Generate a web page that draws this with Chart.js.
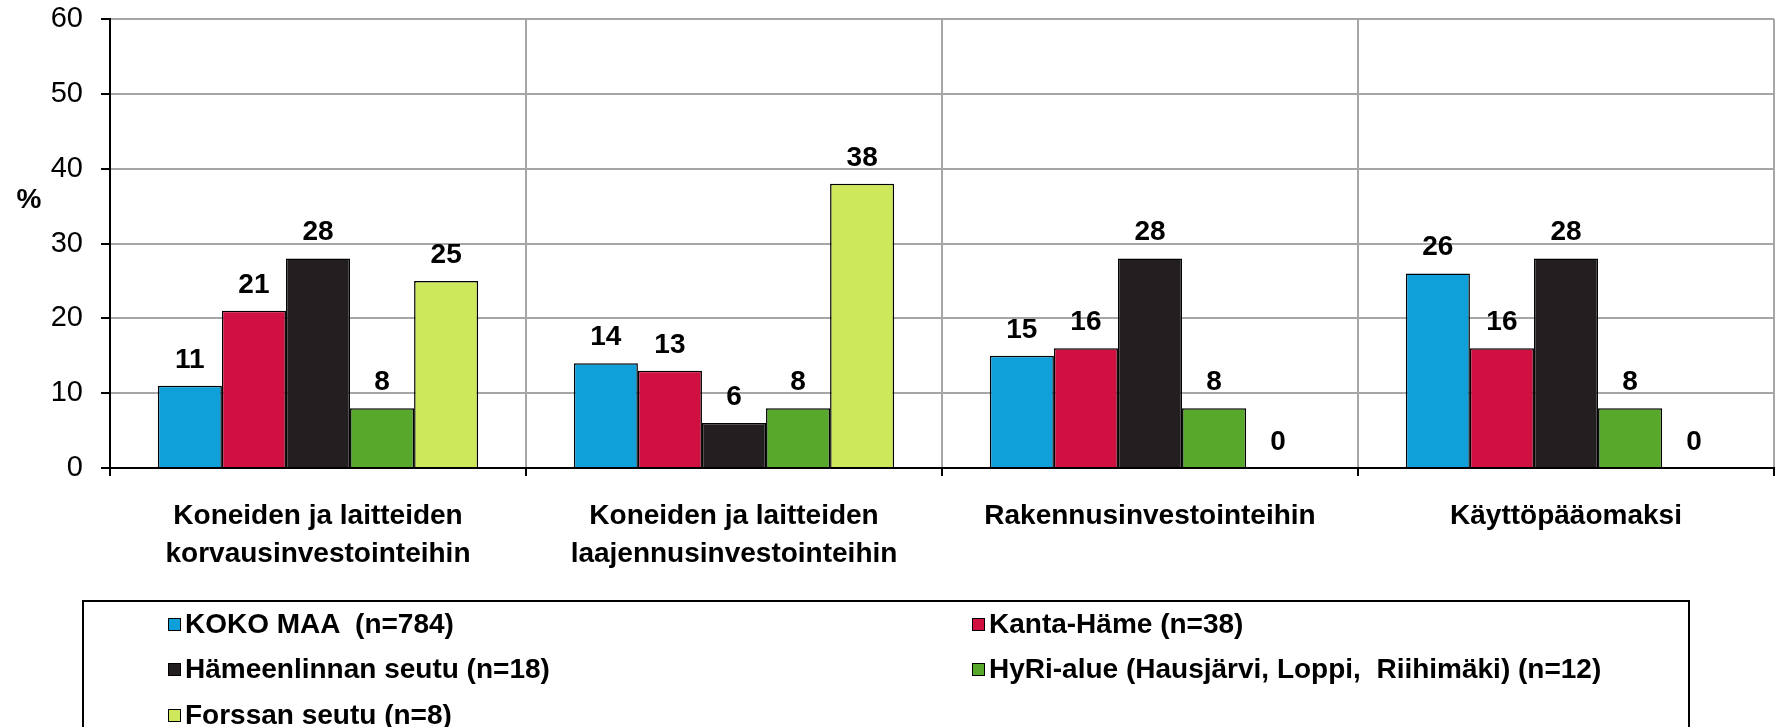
<!DOCTYPE html>
<html>
<head>
<meta charset="utf-8">
<title>Investoinnit</title>
<script src="https://cdn.jsdelivr.net/npm/chart.js@4.4.0/dist/chart.umd.min.js"></script>
<style>
    html, body { margin: 0; padding: 0; background: #fff; }
    #wrap { position: relative; width: 1776px; height: 727px; overflow: hidden; }
    #wrap canvas { position: absolute; left: 0; top: 0; }
    #legend {
        position: absolute; left: 82px; top: 600px; width: 1604px; height: 200px;
        border: 2px solid #000;
        font: bold 28px "Liberation Sans", Arial, sans-serif; color: #000;
    }
    .item { position: absolute; display: flex; align-items: center; white-space: pre; height: 30px; }
    .box { width: 11px; height: 11px; border: 1.5px solid #000; margin-right: 4px; }
</style>
</head>
<body>
<div id="wrap">
    <canvas id="investChart" width="1776" height="727"></canvas>
    <div id="legend"></div>
</div>
<script>
// Categories and series
const categories = [
    ['Koneiden ja laitteiden', 'korvausinvestointeihin'],
    ['Koneiden ja laitteiden', 'laajennusinvestointeihin'],
    'Rakennusinvestointeihin',
    'Käyttöpääomaksi'
];
const seriesNames = [
    'KOKO MAA  (n=784)',
    'Kanta-Häme (n=38)',
    'Hämeenlinnan seutu (n=18)',
    'HyRi-alue (Hausjärvi, Loppi,  Riihimäki) (n=12)',
    'Forssan seutu (n=8)'
];
const kokoMaa = [11, 14, 15, 26];
const kantaHame = [21, 13, 16, 16];
const hameenlinna = [28, 6, 28, 28];
const hyri = [8, 8, 8, 8];
const forssa = [25, 38, 0, 0];
const seriesColors = ['#10a0d9', '#d01040', '#231f20', '#58a82c', '#cde85a'];
const yMin = 0, yMax = 60, yStep = 10;

const FONT = '"Liberation Sans", Arial, sans-serif';

// value labels above each bar
const valueLabels = {
    id: 'valueLabels',
    afterDatasetsDraw(chart) {
        const ctx = chart.ctx;
        ctx.save();
        ctx.font = 'bold 28px ' + FONT;
        ctx.fillStyle = '#000';
        ctx.textAlign = 'center';
        ctx.textBaseline = 'alphabetic';
        chart.data.datasets.forEach((ds, i) => {
            chart.getDatasetMeta(i).data.forEach((bar, j) => {
                ctx.fillText(String(ds.data[j]), bar.x, bar.y - 18);
            });
        });
        ctx.restore();
    }
};

// the "%" axis title sits horizontally left of the axis
const percentTitle = {
    id: 'percentTitle',
    afterDraw(chart) {
        const ctx = chart.ctx;
        ctx.save();
        ctx.font = 'bold 28px ' + FONT;
        ctx.fillStyle = '#000';
        ctx.textAlign = 'center';
        ctx.textBaseline = 'middle';
        ctx.fillText('%', 29, 200);
        ctx.restore();
    }
};

function createChart() {
    const ctx = document.getElementById('investChart').getContext('2d');
    const values = [kokoMaa, kantaHame, hameenlinna, hyri, forssa];

    const chart = new Chart(ctx, {
        type: 'bar',
        data: {
            labels: categories,
            datasets: seriesNames.map((name, i) => ({
                label: name,
                data: values[i],
                backgroundColor: seriesColors[i],
                borderColor: '#000',
                borderWidth: 1.5
            }))
        },
        options: {
            responsive: false,
            animation: false,
            categoryPercentage: 0.77,
            barPercentage: 1.0,
            layout: { padding: { top: 19, right: 2, left: 0, bottom: 0 } },
            plugins: {
                legend: { display: false },
                tooltip: { enabled: false }
            },
            scales: {
                x: {
                    grid: {
                        color: '#a6a6a6',
                        lineWidth: 2,
                        tickColor: '#000',
                        tickLength: 8,
                        offset: true
                    },
                    border: { color: '#000', width: 2 },
                    ticks: {
                        color: '#000',
                        padding: 21,
                        maxRotation: 0,
                        autoSkip: false,
                        font: { family: FONT, size: 28, weight: 'bold', lineHeight: 1.375 }
                    },
                    afterFit: (s) => { s.height = 259; }
                },
                y: {
                    min: yMin,
                    max: yMax,
                    grid: {
                        color: '#a6a6a6',
                        lineWidth: 2,
                        tickColor: '#000',
                        tickLength: 9
                    },
                    border: { color: '#000', width: 2 },
                    ticks: {
                        stepSize: yStep,
                        color: '#000',
                        padding: 18,
                        font: { family: FONT, size: 29 }
                    },
                    afterFit: (s) => {
                        s.width = 110;
                        s.paddingTop = 0;
                        s.paddingBottom = 0;
                    }
                }
            }
        },
        plugins: [valueLabels, percentTitle]
    });

    // legend built from the datasets, two columns
    const legend = document.getElementById('legend');
    const colX = [84, 888];
    const rowY = [7, 52, 98];
    chart.data.datasets.forEach((ds, i) => {
        const item = document.createElement('div');
        item.className = 'item';
        item.style.left = colX[i % 2] + 'px';
        item.style.top = rowY[Math.floor(i / 2)] + 'px';
        const box = document.createElement('span');
        box.className = 'box';
        box.style.background = ds.backgroundColor;
        const txt = document.createElement('span');
        txt.textContent = ds.label;
        item.appendChild(box);
        item.appendChild(txt);
        legend.appendChild(item);
    });
}

document.addEventListener('DOMContentLoaded', () => {
    createChart();
});
</script>
</body>
</html>
